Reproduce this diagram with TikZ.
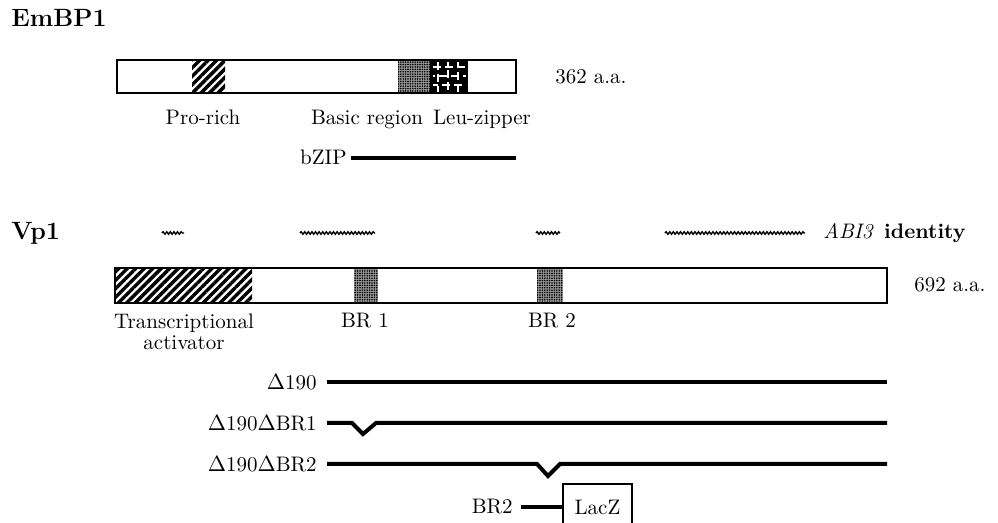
\documentclass[tikz,border=0pt]{standalone}
\usetikzlibrary{patterns, patterns.meta, decorations.pathmorphing}

\begin{document}
\begin{tikzpicture}[x=0.5pt, y=-0.5pt,
  txt/.style={font=\fontsize{10.5}{10.5}\selectfont, inner sep=0pt},
  title/.style={font=\fontsize{12.5}{14}\selectfont\bfseries, inner sep=0pt},
  outline/.style={draw=black, line width=1pt},
  construct/.style={line width=2pt},
  hatch/.style={pattern={Lines[angle=45,distance=3pt,line width=1.7pt]}},
  stipple/.style={fill=black!40, postaction={pattern={Dots[distance=1.2pt,radius=0.45pt]}}},
  zipper/.style={white, line width=0.6pt, dash pattern=on 4pt off 2pt},
  identity/.style={decorate, decoration={snake, amplitude=0.6pt, segment length=1.8pt}, line width=0.7pt}]
  \useasboundingbox (0,0) rectangle (998,523);
  \clip (0,0) rectangle (998,523);

  % EmBP1
  \node[title, anchor=base west] (embp) at (11,27) {EmBP1};
  \coordinate (embpend) at (516,93);
  \path[hatch] (192,60) rectangle (225,93);
  \path[stipple] (398,60) rectangle (430,93);
  \fill[black] (430,60) rectangle (468,93);
  \foreach \y/\ph in {67/0, 76/3, 85/1.5} {
    \draw[zipper, dash phase=\ph pt] (433,\y) -- (466,\y);
  }
  \foreach \x/\ph in {438/0, 448/2, 458/1} {
    \draw[zipper, dash phase=\ph pt] (\x,62) -- (\x,92);
  }
  \draw[outline] (117,60) rectangle (embpend);
  \node[txt, anchor=west] (len1) at (555,77) {362 a.a.};
  \node[txt, anchor=base] (pro) at (203,125) {Pro-rich};
  \node[txt, anchor=base] (basic) at (367,125) {Basic region};
  \node[txt, anchor=base] (leu) at (482,125) {Leu-zipper};
  \node[txt, anchor=base east] (bzip) at (347,165) {bZIP};
  \draw[construct] ([xshift=2pt]bzip.east) -- (bzip.east -| embpend);

  % Vp1
  \node[title, anchor=base west] (vp) at (11,240) {Vp1};
  \draw[identity] (162,233) -- (184,233);
  \draw[identity] (300,233) -- (375,233);
  \draw[identity] (536,233) -- (560,233);
  \draw[identity] (665,233) -- (805,233);
  \node[txt, anchor=base west] (abi) at (823,239) {\textit{ABI3}\, \textbf{identity}};
  \coordinate (vpend) at (887,303);
  \path[hatch] (115,268) rectangle (252,303);
  \path[stipple] (354,268) rectangle (378,303);
  \path[stipple] (537,268) rectangle (563,303);
  \draw[outline] (115,268) rectangle (vpend);
  \node[txt, anchor=west] (len2) at (914,285) {692 a.a.};
  \node[txt, anchor=north, align=center] (act) at (184,314) {Transcriptional\\activator};
  \node[txt, anchor=base] (br1) at (365,328) {BR 1};
  \node[txt, anchor=base] (br2) at (552,328) {BR 2};

  \node[txt, anchor=east] (d190) at (317,382) {$\Delta$190};
  \node[txt, anchor=east] (dbr1) at (317,423) {$\Delta$190$\Delta$BR1};
  \node[txt, anchor=east] (dbr2) at (317,464) {$\Delta$190$\Delta$BR2};
  \draw[construct] ([xshift=5pt]d190.east) -- (d190.east -| vpend);
  \draw[construct] ([xshift=5pt]dbr1.east) -- (352,423) -- (363,434) -- (376,423) -- (dbr1.east -| vpend);
  \draw[construct] ([xshift=5pt]dbr2.east) -- (537,464) -- (548,476) -- (560,464) -- (dbr2.east -| vpend);

  \node[txt, anchor=east] (br2lac) at (513,507) {BR2};
  \node[txt, draw, line width=0.8pt, minimum width=34.5pt, minimum height=23pt] (lacz) at (597.5,507) {LacZ};
  \draw[construct] ([xshift=4pt]br2lac.east) -- (br2lac.east -| lacz.west);
\end{tikzpicture}
\end{document}
